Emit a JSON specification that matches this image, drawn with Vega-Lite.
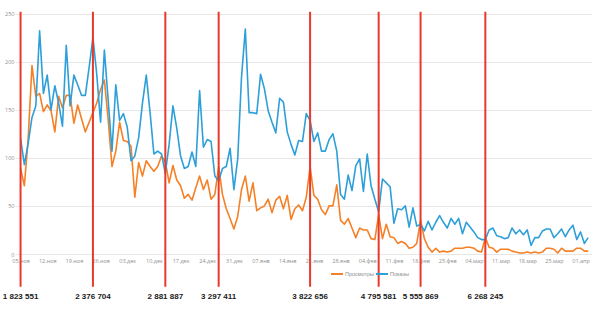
{
  "$schema": "https://vega.github.io/schema/vega-lite/v6.json",
  "width": 577,
  "height": 250,
  "autosize": {"type": "none"},
  "padding": {"left": 15, "top": 4, "right": 0, "bottom": 77},
  "background": "white",
  "config": {"view": {"stroke": null}, "font": "Liberation Sans", "axis": {"labelOverlap": false, "labelSeparation": 0}},
  "datasets": {
    "daily": [
      {"date": "2018-11-05", "Просмотры": 89, "Показы": 120},
      {"date": "2018-11-06", "Просмотры": 71, "Показы": 93},
      {"date": "2018-11-07", "Просмотры": 120, "Показы": 115},
      {"date": "2018-11-08", "Просмотры": 196, "Показы": 142},
      {"date": "2018-11-09", "Просмотры": 164, "Показы": 154},
      {"date": "2018-11-10", "Просмотры": 167, "Показы": 232},
      {"date": "2018-11-11", "Просмотры": 148, "Показы": 167},
      {"date": "2018-11-12", "Просмотры": 155, "Показы": 186},
      {"date": "2018-11-13", "Просмотры": 149, "Показы": 150},
      {"date": "2018-11-14", "Просмотры": 127, "Показы": 175},
      {"date": "2018-11-15", "Просмотры": 164, "Показы": 157},
      {"date": "2018-11-16", "Просмотры": 152, "Показы": 133},
      {"date": "2018-11-17", "Просмотры": 165, "Показы": 217},
      {"date": "2018-11-18", "Просмотры": 165, "Показы": 154},
      {"date": "2018-11-19", "Просмотры": 136, "Показы": 186},
      {"date": "2018-11-20", "Просмотры": 155, "Показы": 176},
      {"date": "2018-11-21", "Просмотры": 141, "Показы": 165},
      {"date": "2018-11-22", "Просмотры": 127, "Показы": 165},
      {"date": "2018-11-23", "Просмотры": 137, "Показы": 194},
      {"date": "2018-11-24", "Просмотры": 147, "Показы": 225},
      {"date": "2018-11-25", "Просмотры": 157, "Показы": 187},
      {"date": "2018-11-26", "Просмотры": 171, "Показы": 137},
      {"date": "2018-11-27", "Просмотры": 181, "Показы": 212},
      {"date": "2018-11-28", "Просмотры": 140, "Показы": 160},
      {"date": "2018-11-29", "Просмотры": 91, "Показы": 107},
      {"date": "2018-11-30", "Просмотры": 107, "Показы": 176},
      {"date": "2018-12-01", "Просмотры": 137, "Показы": 139},
      {"date": "2018-12-02", "Просмотры": 118, "Показы": 146},
      {"date": "2018-12-03", "Просмотры": 117, "Показы": 132},
      {"date": "2018-12-04", "Просмотры": 112, "Показы": 97},
      {"date": "2018-12-05", "Просмотры": 59, "Показы": 102},
      {"date": "2018-12-06", "Просмотры": 95, "Показы": 121},
      {"date": "2018-12-07", "Просмотры": 81, "Показы": 157},
      {"date": "2018-12-08", "Просмотры": 97, "Показы": 186},
      {"date": "2018-12-09", "Просмотры": 91, "Показы": 147},
      {"date": "2018-12-10", "Просмотры": 86, "Показы": 104},
      {"date": "2018-12-11", "Просмотры": 91, "Показы": 107},
      {"date": "2018-12-12", "Просмотры": 102, "Показы": 104},
      {"date": "2018-12-13", "Просмотры": 96, "Показы": 84},
      {"date": "2018-12-14", "Просмотры": 74, "Показы": 114},
      {"date": "2018-12-15", "Просмотры": 92, "Показы": 154},
      {"date": "2018-12-16", "Просмотры": 77, "Показы": 131},
      {"date": "2018-12-17", "Просмотры": 71, "Показы": 102},
      {"date": "2018-12-18", "Просмотры": 58, "Показы": 89},
      {"date": "2018-12-19", "Просмотры": 62, "Показы": 91},
      {"date": "2018-12-20", "Просмотры": 56, "Показы": 106},
      {"date": "2018-12-21", "Просмотры": 69, "Показы": 91},
      {"date": "2018-12-22", "Просмотры": 81, "Показы": 170},
      {"date": "2018-12-23", "Просмотры": 67, "Показы": 111},
      {"date": "2018-12-24", "Просмотры": 77, "Показы": 119},
      {"date": "2018-12-25", "Просмотры": 57, "Показы": 117},
      {"date": "2018-12-26", "Просмотры": 62, "Показы": 81},
      {"date": "2018-12-27", "Просмотры": 91, "Показы": 76},
      {"date": "2018-12-28", "Просмотры": 62, "Показы": 89},
      {"date": "2018-12-29", "Просмотры": 47, "Показы": 91},
      {"date": "2018-12-30", "Просмотры": 37, "Показы": 110},
      {"date": "2018-12-31", "Просмотры": 26, "Показы": 67},
      {"date": "2019-01-01", "Просмотры": 39, "Показы": 99},
      {"date": "2019-01-02", "Просмотры": 67, "Показы": 184},
      {"date": "2019-01-03", "Просмотры": 81, "Показы": 234},
      {"date": "2019-01-04", "Просмотры": 55, "Показы": 147},
      {"date": "2019-01-05", "Просмотры": 74, "Показы": 147},
      {"date": "2019-01-06", "Просмотры": 45, "Показы": 146},
      {"date": "2019-01-07", "Просмотры": 48, "Показы": 187},
      {"date": "2019-01-08", "Просмотры": 50, "Показы": 172},
      {"date": "2019-01-09", "Просмотры": 57, "Показы": 149},
      {"date": "2019-01-10", "Просмотры": 43, "Показы": 137},
      {"date": "2019-01-11", "Просмотры": 56, "Показы": 126},
      {"date": "2019-01-12", "Просмотры": 60, "Показы": 162},
      {"date": "2019-01-13", "Просмотры": 47, "Показы": 158},
      {"date": "2019-01-14", "Просмотры": 61, "Показы": 127},
      {"date": "2019-01-15", "Просмотры": 36, "Показы": 114},
      {"date": "2019-01-16", "Просмотры": 47, "Показы": 103},
      {"date": "2019-01-17", "Просмотры": 51, "Показы": 118},
      {"date": "2019-01-18", "Просмотры": 45, "Показы": 117},
      {"date": "2019-01-19", "Просмотры": 59, "Показы": 146},
      {"date": "2019-01-20", "Просмотры": 91, "Показы": 139},
      {"date": "2019-01-21", "Просмотры": 61, "Показы": 117},
      {"date": "2019-01-22", "Просмотры": 57, "Показы": 126},
      {"date": "2019-01-23", "Просмотры": 46, "Показы": 107},
      {"date": "2019-01-24", "Просмотры": 41, "Показы": 107},
      {"date": "2019-01-25", "Просмотры": 50, "Показы": 119},
      {"date": "2019-01-26", "Просмотры": 50, "Показы": 125},
      {"date": "2019-01-27", "Просмотры": 72, "Показы": 107},
      {"date": "2019-01-28", "Просмотры": 35, "Показы": 62},
      {"date": "2019-01-29", "Просмотры": 31, "Показы": 57},
      {"date": "2019-01-30", "Просмотры": 37, "Показы": 82},
      {"date": "2019-01-31", "Просмотры": 27, "Показы": 66},
      {"date": "2019-02-01", "Просмотры": 17, "Показы": 92},
      {"date": "2019-02-02", "Просмотры": 27, "Показы": 99},
      {"date": "2019-02-03", "Просмотры": 25, "Показы": 65},
      {"date": "2019-02-04", "Просмотры": 25, "Показы": 104},
      {"date": "2019-02-05", "Просмотры": 16, "Показы": 71},
      {"date": "2019-02-06", "Просмотры": 15, "Показы": 57},
      {"date": "2019-02-07", "Просмотры": 41, "Показы": 44},
      {"date": "2019-02-08", "Просмотры": 16, "Показы": 78},
      {"date": "2019-02-09", "Просмотры": 31, "Показы": 74},
      {"date": "2019-02-10", "Просмотры": 18, "Показы": 70},
      {"date": "2019-02-11", "Просмотры": 17, "Показы": 32},
      {"date": "2019-02-12", "Просмотры": 11, "Показы": 47},
      {"date": "2019-02-13", "Просмотры": 13, "Показы": 46},
      {"date": "2019-02-14", "Просмотры": 11, "Показы": 50},
      {"date": "2019-02-15", "Просмотры": 6, "Показы": 28},
      {"date": "2019-02-16", "Просмотры": 7, "Показы": 48},
      {"date": "2019-02-17", "Просмотры": 11, "Показы": 29},
      {"date": "2019-02-18", "Просмотры": 35, "Показы": 31},
      {"date": "2019-02-19", "Просмотры": 16, "Показы": 24},
      {"date": "2019-02-20", "Просмотры": 7, "Показы": 34},
      {"date": "2019-02-21", "Просмотры": 2, "Показы": 25},
      {"date": "2019-02-22", "Просмотры": 6, "Показы": 33},
      {"date": "2019-02-23", "Просмотры": 2, "Показы": 40},
      {"date": "2019-02-24", "Просмотры": 3, "Показы": 33},
      {"date": "2019-02-25", "Просмотры": 2, "Показы": 27},
      {"date": "2019-02-26", "Просмотры": 3, "Показы": 37},
      {"date": "2019-02-27", "Просмотры": 6, "Показы": 31},
      {"date": "2019-02-28", "Просмотры": 6, "Показы": 37},
      {"date": "2019-03-01", "Просмотры": 6, "Показы": 21},
      {"date": "2019-03-02", "Просмотры": 7, "Показы": 33},
      {"date": "2019-03-03", "Просмотры": 7, "Показы": 28},
      {"date": "2019-03-04", "Просмотры": 6, "Показы": 23},
      {"date": "2019-03-05", "Просмотры": 3, "Показы": 17},
      {"date": "2019-03-06", "Просмотры": 2, "Показы": 15},
      {"date": "2019-03-07", "Просмотры": 17, "Показы": 15},
      {"date": "2019-03-08", "Просмотры": 7, "Показы": 25},
      {"date": "2019-03-09", "Просмотры": 6, "Показы": 27},
      {"date": "2019-03-10", "Просмотры": 2, "Показы": 19},
      {"date": "2019-03-11", "Просмотры": 5, "Показы": 18},
      {"date": "2019-03-12", "Просмотры": 5, "Показы": 16},
      {"date": "2019-03-13", "Просмотры": 5, "Показы": 17},
      {"date": "2019-03-14", "Просмотры": 3, "Показы": 27},
      {"date": "2019-03-15", "Просмотры": 2, "Показы": 21},
      {"date": "2019-03-16", "Просмотры": 1, "Показы": 25},
      {"date": "2019-03-17", "Просмотры": 1, "Показы": 20},
      {"date": "2019-03-18", "Просмотры": 2, "Показы": 25},
      {"date": "2019-03-19", "Просмотры": 1, "Показы": 9},
      {"date": "2019-03-20", "Просмотры": 2, "Показы": 17},
      {"date": "2019-03-21", "Просмотры": 1, "Показы": 17},
      {"date": "2019-03-22", "Просмотры": 2, "Показы": 24},
      {"date": "2019-03-23", "Просмотры": 6, "Показы": 26},
      {"date": "2019-03-24", "Просмотры": 6, "Показы": 26},
      {"date": "2019-03-25", "Просмотры": 5, "Показы": 17},
      {"date": "2019-03-26", "Просмотры": 1, "Показы": 21},
      {"date": "2019-03-27", "Просмотры": 6, "Показы": 26},
      {"date": "2019-03-28", "Просмотры": 3, "Показы": 18},
      {"date": "2019-03-29", "Просмотры": 3, "Показы": 25},
      {"date": "2019-03-30", "Просмотры": 3, "Показы": 30},
      {"date": "2019-03-31", "Просмотры": 6, "Показы": 15},
      {"date": "2019-04-01", "Просмотры": 6, "Показы": 23},
      {"date": "2019-04-02", "Просмотры": 3, "Показы": 11},
      {"date": "2019-04-03", "Просмотры": 3, "Показы": 17}
    ],
    "totals": [
      {"date": "2018-11-05", "total": "1 823 551"},
      {"date": "2018-11-24", "total": "2 376 704"},
      {"date": "2018-12-13", "total": "2 881 887"},
      {"date": "2018-12-27", "total": "3 297 411"},
      {"date": "2019-01-20", "total": "3 822 656"},
      {"date": "2019-02-07", "total": "4 795 581"},
      {"date": "2019-02-18", "total": "5 555 869"},
      {"date": "2019-03-07", "total": "6 268 245"}
    ]
  },
  "layer": [
    {
      "data": {"name": "daily"},
      "transform": [{"fold": ["Просмотры", "Показы"], "as": ["series", "value"]}],
      "mark": {"type": "line", "strokeWidth": 1.6, "strokeJoin": "round"},
      "encoding": {
        "x": {
          "field": "date",
          "type": "temporal",
          "scale": {
            "type": "utc",
            "domain": [
              {"year": 2018, "month": 11, "date": 3, "hours": 13, "utc": true},
              {"year": 2019, "month": 4, "date": 4, "utc": true}
            ]
          },
          "axis": {
            "title": null,
            "domain": false,
            "ticks": false,
            "grid": false,
            "tickCount": 40,
            "labelFontSize": 5.5,
            "labelColor": "#8f8f8f",
            "labelFont": "Open Sans",
            "labelPadding": 4,
            "labelOverlap": false,
            "labelSeparation": 0,
            "labelFlush": false,
            "values": [
              {"year": 2018, "month": 11, "date": 5, "utc": true},
              {"year": 2018, "month": 11, "date": 12, "utc": true},
              {"year": 2018, "month": 11, "date": 19, "utc": true},
              {"year": 2018, "month": 11, "date": 26, "utc": true},
              {"year": 2018, "month": 12, "date": 3, "utc": true},
              {"year": 2018, "month": 12, "date": 10, "utc": true},
              {"year": 2018, "month": 12, "date": 17, "utc": true},
              {"year": 2018, "month": 12, "date": 24, "utc": true},
              {"year": 2018, "month": 12, "date": 31, "utc": true},
              {"year": 2019, "month": 1, "date": 7, "utc": true},
              {"year": 2019, "month": 1, "date": 14, "utc": true},
              {"year": 2019, "month": 1, "date": 21, "utc": true},
              {"year": 2019, "month": 1, "date": 28, "utc": true},
              {"year": 2019, "month": 2, "date": 4, "utc": true},
              {"year": 2019, "month": 2, "date": 11, "utc": true},
              {"year": 2019, "month": 2, "date": 18, "utc": true},
              {"year": 2019, "month": 2, "date": 25, "utc": true},
              {"year": 2019, "month": 3, "date": 4, "utc": true},
              {"year": 2019, "month": 3, "date": 11, "utc": true},
              {"year": 2019, "month": 3, "date": 18, "utc": true},
              {"year": 2019, "month": 3, "date": 25, "utc": true},
              {"year": 2019, "month": 4, "date": 1, "utc": true}
            ],
            "labelExpr": "utcFormat(datum.value, '%d') + '.' + ['янв','фев','мар','апр','мая','июн','июл','авг','сен','окт','ноя','дек'][utcmonth(datum.value)]"
          }
        },
        "y": {
          "field": "value",
          "type": "quantitative",
          "scale": {"domain": [0, 250]},
          "axis": {
            "title": null,
            "values": [0, 50, 100, 150, 200, 250],
            "tickCount": 10,
            "domain": false,
            "ticks": false,
            "grid": true,
            "gridColor": "#e6e6e6",
            "gridWidth": 1,
            "labelFontSize": 5.5,
            "labelColor": "#8f8f8f",
            "labelFont": "Open Sans",
            "labelPadding": 1
          }
        },
        "color": {
          "field": "series",
          "type": "nominal",
          "scale": {"domain": ["Просмотры", "Показы"], "range": ["#f58025", "#2d9fd9"]},
          "legend": {
            "title": null,
            "orient": "none",
            "direction": "horizontal",
            "legendX": 315,
            "legendY": 263,
            "padding": 0,
            "symbolType": "stroke",
            "symbolSize": 144,
            "symbolStrokeWidth": 2,
            "labelFontSize": 5.5,
            "labelFont": "Liberation Sans",
            "labelColor": "#8f8f8f",
            "labelOffset": 1,
            "columnPadding": -5
          }
        }
      }
    },
    {
      "data": {"name": "totals"},
      "mark": {"type": "rule", "color": "#e8392b", "strokeWidth": 2},
      "encoding": {
        "x": {"field": "date", "type": "temporal"},
        "y": {"datum": 252},
        "y2": {"datum": -34}
      }
    },
    {
      "data": {"name": "totals"},
      "mark": {"type": "text", "align": "center", "baseline": "middle", "fontSize": 8, "fontWeight": "bold", "font": "Liberation Sans", "color": "#1a1a1a"},
      "encoding": {
        "x": {"field": "date", "type": "temporal"},
        "y": {"datum": -45},
        "text": {"field": "total"}
      }
    }
  ]
}
